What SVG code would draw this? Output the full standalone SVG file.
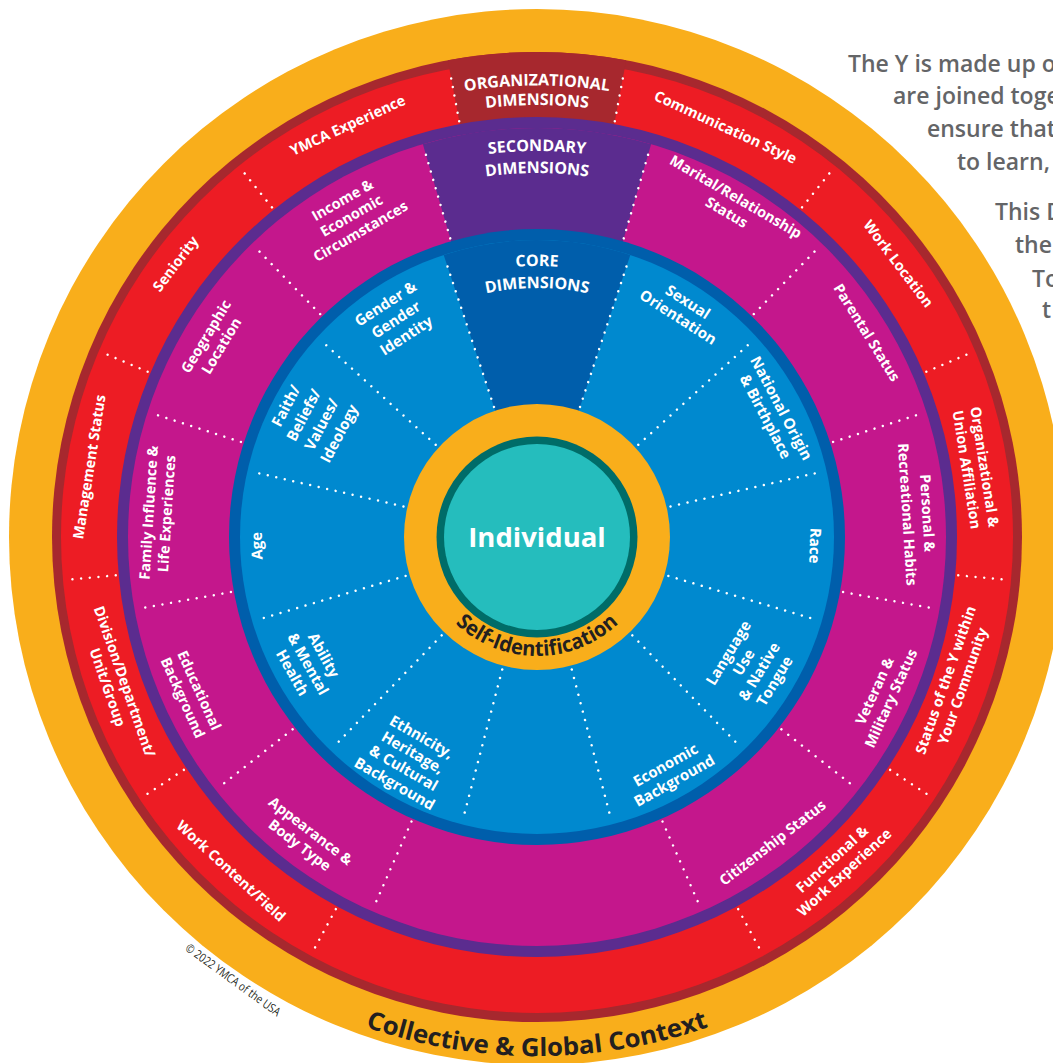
<svg xmlns="http://www.w3.org/2000/svg" xmlns:xlink="http://www.w3.org/1999/xlink" width="1053" height="1063" viewBox="0 0 1053 1063">
<style>
.lb{font-family:"Open Sans","Noto Sans",sans-serif;font-weight:700;fill:#fff;text-anchor:middle}
.c{font-size:15px}
.s{font-size:14.5px}
.o{font-size:14.5px}
.hd{font-family:"Open Sans","Noto Sans",sans-serif;font-weight:700;fill:#fff;font-size:16px;text-anchor:middle}
.dk{font-family:"Open Sans","Noto Sans",sans-serif;font-weight:700;fill:#231F20;text-anchor:middle}
.side{font-family:"Open Sans","Noto Sans",sans-serif;font-weight:600;fill:#646567;font-size:23px}
.dot{stroke:#fff;stroke-width:2.5;stroke-linecap:round;stroke-dasharray:0 8.7;fill:none}
</style>
<defs>
<path id="arcOrgA" d="M312,145.4 A452,452 0 0 1 762,145.4"/>
<path id="arcOrgB" d="M321,162.9 A432,432 0 0 1 753,162.9"/>
<path id="arcSecA" d="M344,202.7 A386,386 0 0 1 730,202.7"/>
<path id="arcSecB" d="M355,221.8 A364,364 0 0 1 719,221.8"/>
<path id="arcCoreA" d="M401.5,302.3 A271,271 0 0 1 672.5,302.3"/>
<path id="arcCoreB" d="M412.5,321.4 A249,249 0 0 1 661.5,321.4"/>
<path id="arcSelf" d="M425.2,577.7 A119,119 0 0 0 648.8,577.7"/>
<path id="arcColl" d="M87.5,796.5 A519,519 0 0 0 986.5,796.5"/>
</defs>

<!-- rings -->
<g id="rings">
<circle cx="537" cy="537" r="528" fill="#F9AE1B"/>
<circle cx="537" cy="537" r="485" fill="#A7282E"/>
<circle cx="537" cy="537" r="476" fill="#ED1C24"/>
<path d="M537,537 L447.8,60.3 A485,485 0 0 1 626.2,60.3 Z" fill="#A7282E"/>
<circle cx="537" cy="537" r="420" fill="#5B2C8F"/>
<circle cx="537" cy="537" r="409" fill="#C4178C"/>
<path d="M537,537 L422.9,144.2 A409,409 0 0 1 651.1,144.2 Z" fill="#5B2C8F"/>
<circle cx="537" cy="537" r="308" fill="#005EAB"/>
<circle cx="537" cy="537" r="297" fill="#0089CF"/>
<path d="M537,537 L443.7,255 A297,297 0 0 1 630.3,255 Z" fill="#005EAB"/>
<circle cx="537" cy="537" r="133" fill="#F9AE1B"/>
<circle cx="537" cy="537" r="100.5" fill="#006C68"/>
<circle cx="537" cy="537" r="93" fill="#25BDBD"/>
</g>

<!-- dotted separators -->
<g id="connectors">
<g id="core-lines">
<line class="dot" x1="537" y1="400" x2="537" y2="244" transform="rotate(18.3 537 537)"/>
<line class="dot" x1="537" y1="400" x2="537" y2="244" transform="rotate(47.7 537 537)"/>
<line class="dot" x1="537" y1="400" x2="537" y2="244" transform="rotate(77.1 537 537)"/>
<line class="dot" x1="537" y1="400" x2="537" y2="244" transform="rotate(106.5 537 537)"/>
<line class="dot" x1="537" y1="400" x2="537" y2="244" transform="rotate(135.9 537 537)"/>
<line class="dot" x1="537" y1="400" x2="537" y2="244" transform="rotate(165.3 537 537)"/>
<line class="dot" x1="537" y1="400" x2="537" y2="244" transform="rotate(194.7 537 537)"/>
<line class="dot" x1="537" y1="400" x2="537" y2="244" transform="rotate(224.1 537 537)"/>
<line class="dot" x1="537" y1="400" x2="537" y2="244" transform="rotate(253.5 537 537)"/>
<line class="dot" x1="537" y1="400" x2="537" y2="244" transform="rotate(282.9 537 537)"/>
<line class="dot" x1="537" y1="400" x2="537" y2="244" transform="rotate(312.3 537 537)"/>
<line class="dot" x1="537" y1="400" x2="537" y2="244" transform="rotate(341.7 537 537)"/>
</g>
<g id="secondary-lines">
<line class="dot" x1="537" y1="226" x2="537" y2="131" transform="rotate(16.2 537 537)"/>
<line class="dot" x1="537" y1="226" x2="537" y2="131" transform="rotate(44.2 537 537)"/>
<line class="dot" x1="537" y1="226" x2="537" y2="131" transform="rotate(72.2 537 537)"/>
<line class="dot" x1="537" y1="226" x2="537" y2="131" transform="rotate(100.2 537 537)"/>
<line class="dot" x1="537" y1="226" x2="537" y2="131" transform="rotate(128.2 537 537)"/>
<line class="dot" x1="537" y1="226" x2="537" y2="131" transform="rotate(156.2 537 537)"/>
<line class="dot" x1="537" y1="226" x2="537" y2="131" transform="rotate(203.8 537 537)"/>
<line class="dot" x1="537" y1="226" x2="537" y2="131" transform="rotate(231.8 537 537)"/>
<line class="dot" x1="537" y1="226" x2="537" y2="131" transform="rotate(259.8 537 537)"/>
<line class="dot" x1="537" y1="226" x2="537" y2="131" transform="rotate(287.8 537 537)"/>
<line class="dot" x1="537" y1="226" x2="537" y2="131" transform="rotate(315.8 537 537)"/>
<line class="dot" x1="537" y1="226" x2="537" y2="131" transform="rotate(343.8 537 537)"/>
</g>
<g id="org-lines">
<line class="dot" x1="537" y1="114" x2="537" y2="64" transform="rotate(10.6 537 537)"/>
<line class="dot" x1="537" y1="114" x2="537" y2="64" transform="rotate(38.8 537 537)"/>
<line class="dot" x1="537" y1="114" x2="537" y2="64" transform="rotate(67 537 537)"/>
<line class="dot" x1="537" y1="114" x2="537" y2="64" transform="rotate(95.2 537 537)"/>
<line class="dot" x1="537" y1="114" x2="537" y2="64" transform="rotate(123.4 537 537)"/>
<line class="dot" x1="537" y1="114" x2="537" y2="64" transform="rotate(151.6 537 537)"/>
<line class="dot" x1="537" y1="114" x2="537" y2="64" transform="rotate(208.4 537 537)"/>
<line class="dot" x1="537" y1="114" x2="537" y2="64" transform="rotate(236.6 537 537)"/>
<line class="dot" x1="537" y1="114" x2="537" y2="64" transform="rotate(264.8 537 537)"/>
<line class="dot" x1="537" y1="114" x2="537" y2="64" transform="rotate(293 537 537)"/>
<line class="dot" x1="537" y1="114" x2="537" y2="64" transform="rotate(321.2 537 537)"/>
<line class="dot" x1="537" y1="114" x2="537" y2="64" transform="rotate(349.4 537 537)"/>
</g>
</g>

<!-- center -->
<g id="individual">
<text x="537" y="547" class="lb" font-size="27.5">Individual</text>
</g>
<g id="self-identification">
<text class="dk" font-size="21"><textPath xlink:href="#arcSelf" href="#arcSelf" startOffset="50%" textLength="180" lengthAdjust="spacingAndGlyphs">Self-Identification</textPath></text>
</g>
<g id="collective-global-context">
<text class="dk" font-size="25"><textPath xlink:href="#arcColl" href="#arcColl" startOffset="50%" textLength="350" lengthAdjust="spacingAndGlyphs">Collective &amp; Global Context</textPath></text>
</g>

<!-- headers -->
<g id="org-header">
<text class="hd"><textPath xlink:href="#arcOrgA" href="#arcOrgA" startOffset="50%">ORGANIZATIONAL</textPath></text>
<text class="hd"><textPath xlink:href="#arcOrgB" href="#arcOrgB" startOffset="50%">DIMENSIONS</textPath></text>
</g>
<g id="secondary-header">
<text class="hd"><textPath xlink:href="#arcSecA" href="#arcSecA" startOffset="50%">SECONDARY</textPath></text>
<text class="hd"><textPath xlink:href="#arcSecB" href="#arcSecB" startOffset="50%">DIMENSIONS</textPath></text>
</g>
<g id="core-header">
<text class="hd"><textPath xlink:href="#arcCoreA" href="#arcCoreA" startOffset="50%">CORE</textPath></text>
<text class="hd"><textPath xlink:href="#arcCoreB" href="#arcCoreB" startOffset="50%">DIMENSIONS</textPath></text>
</g>

<!-- core labels -->
<g id="core-sexual-orientation" class="lb c" transform="rotate(32.7 537 537) translate(537 267)"><text y="-4">Sexual</text><text y="14">Orientation</text></g>
<g id="core-national-origin" class="lb c" transform="rotate(62.2 537 537) translate(537 270)"><text y="-4">National Origin</text><text y="14">&amp; Birthplace</text></g>
<g id="core-race" class="lb c" transform="rotate(91.8 537 537) translate(537 259)"><text y="5">Race</text></g>
<g id="core-language" class="lb c" transform="rotate(-58.8 537 537) translate(537 788)"><text y="-22">Language</text><text y="-4">Use</text><text y="14">&amp; Native</text><text y="32">Tongue</text></g>
<g id="core-economic" class="lb c" transform="rotate(-29.4 537 537) translate(537 808)"><text y="-4">Economic</text><text y="14">Background</text></g>
<g id="core-ethnicity" class="lb c" transform="rotate(30 537 537) translate(537 795)"><text y="-22">Ethnicity,</text><text y="-4">Heritage,</text><text y="14">&amp; Cultural</text><text y="32">Background</text></g>
<g id="core-ability" class="lb c" transform="rotate(61 537 537) translate(537 799)"><text y="-13">Ability</text><text y="5">&amp; Mental</text><text y="23">Health</text></g>
<g id="core-age" class="lb c" transform="rotate(-91.8 537 537) translate(537 257)"><text y="5">Age</text></g>
<g id="core-faith" class="lb c" transform="rotate(-62.4 537 537) translate(537 283)"><text y="-24">Faith/</text><text y="-4">Beliefs/</text><text y="16">Values/</text><text y="36">Ideology</text></g>
<g id="core-gender" class="lb c" transform="rotate(-33 537 537) translate(537 278)"><text y="-14">Gender &amp;</text><text y="5">Gender</text><text y="24">Identity</text></g>

<!-- secondary labels -->
<g id="sec-marital" class="lb s" transform="rotate(30.3 537 537) translate(537 152)"><text y="-4">Marital/Relationship</text><text y="14">Status</text></g>
<g id="sec-parental" class="lb s" transform="rotate(58.2 537 537) translate(537 149)"><text y="5">Parental Status</text></g>
<g id="sec-personal" class="lb s" transform="rotate(86.5 537 537) translate(537 156)"><text y="-5">Personal &amp;</text><text y="15">Recreational Habits</text></g>
<g id="sec-veteran" class="lb s" transform="rotate(-65.5 537 537) translate(537 917)"><text y="-4">Veteran &amp;</text><text y="14">Military Status</text></g>
<g id="sec-citizenship" class="lb s" transform="rotate(-37.6 537 537) translate(537 923)"><text y="5">Citizenship Status</text></g>
<g id="sec-appearance" class="lb s" transform="rotate(37.6 537 537) translate(537 917)"><text y="-4">Appearance &amp;</text><text y="14">Body Type</text></g>
<g id="sec-educational" class="lb s" transform="rotate(65.6 537 537) translate(537 917)"><text y="-4">Educational</text><text y="14">Background</text></g>
<g id="sec-family" class="lb s" transform="rotate(-86.4 537 537) translate(537 157)"><text y="-4">Family Influence &amp;</text><text y="14">Life Experiences</text></g>
<g id="sec-geographic" class="lb s" transform="rotate(-58.8 537 537) translate(537 159)"><text y="-4">Geographic</text><text y="14">Location</text></g>
<g id="sec-income" class="lb s" transform="rotate(-30 537 537) translate(537 166)"><text y="-13">Income &amp;</text><text y="5">Economic</text><text y="23">Circumstances</text></g>

<!-- organizational labels -->
<g id="org-communication" class="lb o" transform="rotate(24.7 537 537) translate(537 86)"><text y="5">Communication Style</text></g>
<g id="org-work-location" class="lb o" transform="rotate(52.9 537 537) translate(537 84)"><text y="5">Work Location</text></g>
<g id="org-union" class="lb o" transform="rotate(81.1 537 537) translate(537 93)"><text y="-4">Organizational &amp;</text><text y="14">Union Affiliation</text></g>
<g id="org-status" class="lb o" transform="rotate(-70.7 537 537) translate(537 979)"><text y="-4">Status of the Y within</text><text y="14">Your Community</text></g>
<g id="org-functional" class="lb o" transform="rotate(-42.5 537 537) translate(537 983)"><text y="-4">Functional &amp;</text><text y="14">Work Experience</text></g>
<g id="org-work-content" class="lb o" transform="rotate(42.5 537 537) translate(537 990)"><text y="5">Work Content/Field</text></g>
<g id="org-division" class="lb o" transform="rotate(70.7 537 537) translate(537 983)"><text y="-4">Division/Department/</text><text y="14">Unit/Group</text></g>
<g id="org-management" class="lb o" transform="rotate(-81.1 537 537) translate(537 84)"><text y="5">Management Status</text></g>
<g id="org-seniority" class="lb o" transform="rotate(-52.9 537 537) translate(537 84)"><text y="5">Seniority</text></g>
<g id="org-ymca" class="lb o" transform="rotate(-24.7 537 537) translate(537 84)"><text y="5">YMCA Experience</text></g>

<!-- copyright -->
<g id="copyright">
<text transform="translate(233 980) rotate(36)" font-family="'Open Sans','Noto Sans',sans-serif" font-size="12" fill="#231F20" text-anchor="middle" y="4" textLength="114" lengthAdjust="spacingAndGlyphs">© 2022 YMCA of the USA</text>
</g>

<!-- side text -->
<g id="side-text">
<text class="side" x="848" y="72">The Y is made up o</text>
<text class="side" x="893" y="104">are joined toge</text>
<text class="side" x="927" y="137">ensure that</text>
<text class="side" x="957" y="170">to learn,</text>
<text class="side" x="995" y="220">This D</text>
<text class="side" x="1015" y="253">the</text>
<text class="side" x="1032" y="287">To</text>
<text class="side" x="1042" y="318">t</text>
</g>
</svg>
